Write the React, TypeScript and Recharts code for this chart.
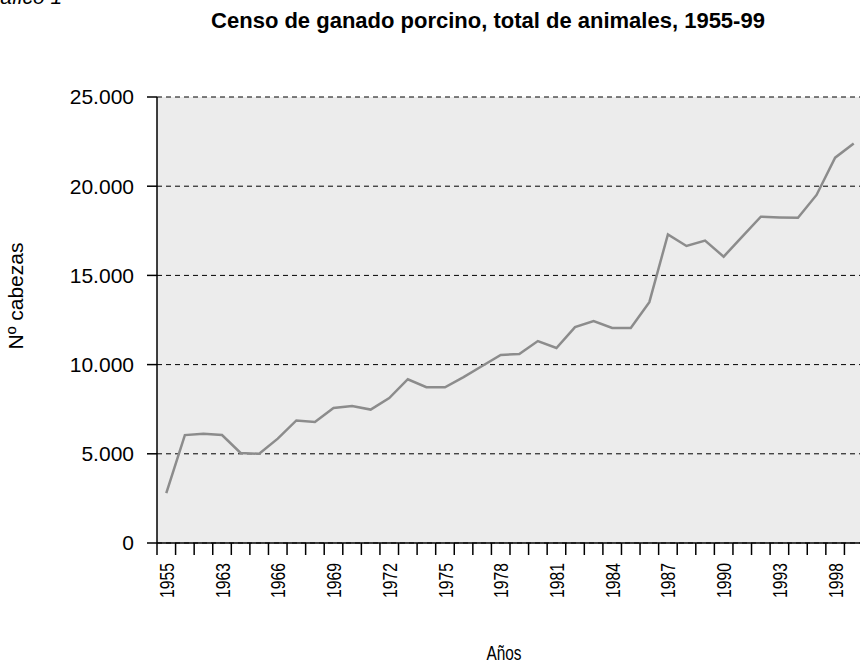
import React from "react";
import { LineChart, Line, XAxis, YAxis, CartesianGrid } from "recharts";

// Años del censo (hay un salto tras 1955 y algunos años sin dato al final)
const years = [
  "1955", "1961", "1962", "1963", "1964", "1965", "1966", "1967", "1968", "1969",
  "1970", "1971", "1972", "1973", "1974", "1975", "1976", "1977", "1978", "1979",
  "1980", "1981", "1982", "1983", "1984", "1985", "1986", "1987", "1988", "1989",
  "1990", "1991", "1992", "1993", "1995", "1997", "1998", "1999",
];

// Nº de cabezas (miles)
const headcount = [
  2800, 6050, 6130, 6050, 5050, 5000, 5850, 6870, 6780, 7570,
  7680, 7480, 8120, 9180, 8730, 8730, 9300, 9920, 10540, 10590,
  11320, 10930, 12100, 12440, 12050, 12050, 13500, 17300, 16650, 16950,
  16050, 17170, 18290, 18250, 18230, 19510, 21600, 22400,
];

const yTicks = [0, 5000, 10000, 15000, 20000, 25000];

const FONT = '"Liberation Sans", Arial, Helvetica, sans-serif';

const data = years.map((year, i) => ({ x: i + 0.5, year, v: headcount[i] }));

// tick marks at band edges, labels at band centres (one every three)
const edgeTicks = years.map((_, i) => i).concat(years.length);
const labelTicks = years.map((_, i) => i + 0.5).filter((_, i) => i % 3 === 0);
const xTicks = [...edgeTicks, ...labelTicks];

const fmtMiles = (v: number) => String(v).replace(/\B(?=(\d{3})+(?!\d))/g, ".");

function XTick({ x, y, payload }: { x?: number; y?: number; payload?: { value: number } }) {
  if (x == null || y == null || !payload) return null;
  const v = payload.value;
  if (Number.isInteger(v)) {
    return <line x1={x} x2={x} y1={y} y2={y + 12} stroke="#000" strokeWidth={1.5} />;
  }
  const label = years[Math.floor(v)];
  return (
    <text
      transform={`translate(${x},${y + 20}) rotate(-90)`}
      textAnchor="end"
      dy="0.36em"
      fontSize={21}
      fontFamily={FONT}
      fill="#000"
      textLength={35}
      lengthAdjust="spacingAndGlyphs"
    >
      {label}
    </text>
  );
}

export default function App() {
  return (
    <div
      style={{
        position: "absolute",
        left: 0,
        top: 0,
        width: 860,
        height: 662,
        overflow: "hidden",
        background: "#fff",
      }}
    >
      <LineChart
        width={863}
        height={662}
        data={data}
        margin={{ top: 97, right: 0, left: 0, bottom: 0 }}
      >
        <CartesianGrid
          vertical={false}
          horizontal
          fill="#ececec"
          stroke="#000"
          strokeDasharray="5 4"
          horizontalValues={yTicks}
        />
        <XAxis
          type="number"
          dataKey="x"
          domain={[0, years.length]}
          ticks={xTicks}
          interval={0}
          height={119}
          tickLine={false}
          tickSize={0}
          tickMargin={0}
          axisLine={{ stroke: "#000", strokeWidth: 1.5 }}
          tick={<XTick />}
        />
        <YAxis
          type="number"
          domain={[0, 25000]}
          ticks={yTicks}
          interval={0}
          width={157}
          tickSize={10}
          tickMargin={13}
          tickFormatter={fmtMiles}
          axisLine={{ stroke: "#000", strokeWidth: 1.5 }}
          tickLine={{ stroke: "#000", strokeWidth: 1.5 }}
          tick={{ fontSize: 21, fill: "#000", fontFamily: FONT }}
        />
        <Line
          type="linear"
          dataKey="v"
          stroke="#8c8c8c"
          strokeWidth={2.5}
          dot={false}
          isAnimationActive={false}
        />
      </LineChart>
      <svg
        width={860}
        height={662}
        style={{ position: "absolute", left: 0, top: 0, pointerEvents: "none" }}
      >
        <text x={-23} y={4} fontSize={21} fontStyle="italic" fontFamily={FONT} fill="#000">
          Gráfico 1
        </text>
        <text x={488} y={28} textAnchor="middle" fontSize={22} fontWeight="bold" fontFamily={FONT} fill="#000">
          Censo de ganado porcino, total de animales, 1955-99
        </text>
        <text
          transform="translate(23,296) rotate(-90)"
          textAnchor="middle"
          fontSize={21}
          fontFamily={FONT}
          fill="#000"
        >
          Nº cabezas
        </text>
        <text
          x={504}
          y={660}
          textAnchor="middle"
          fontSize={21}
          fontFamily={FONT}
          fill="#000"
          textLength={35}
          lengthAdjust="spacingAndGlyphs"
        >
          Años
        </text>
      </svg>
    </div>
  );
}
